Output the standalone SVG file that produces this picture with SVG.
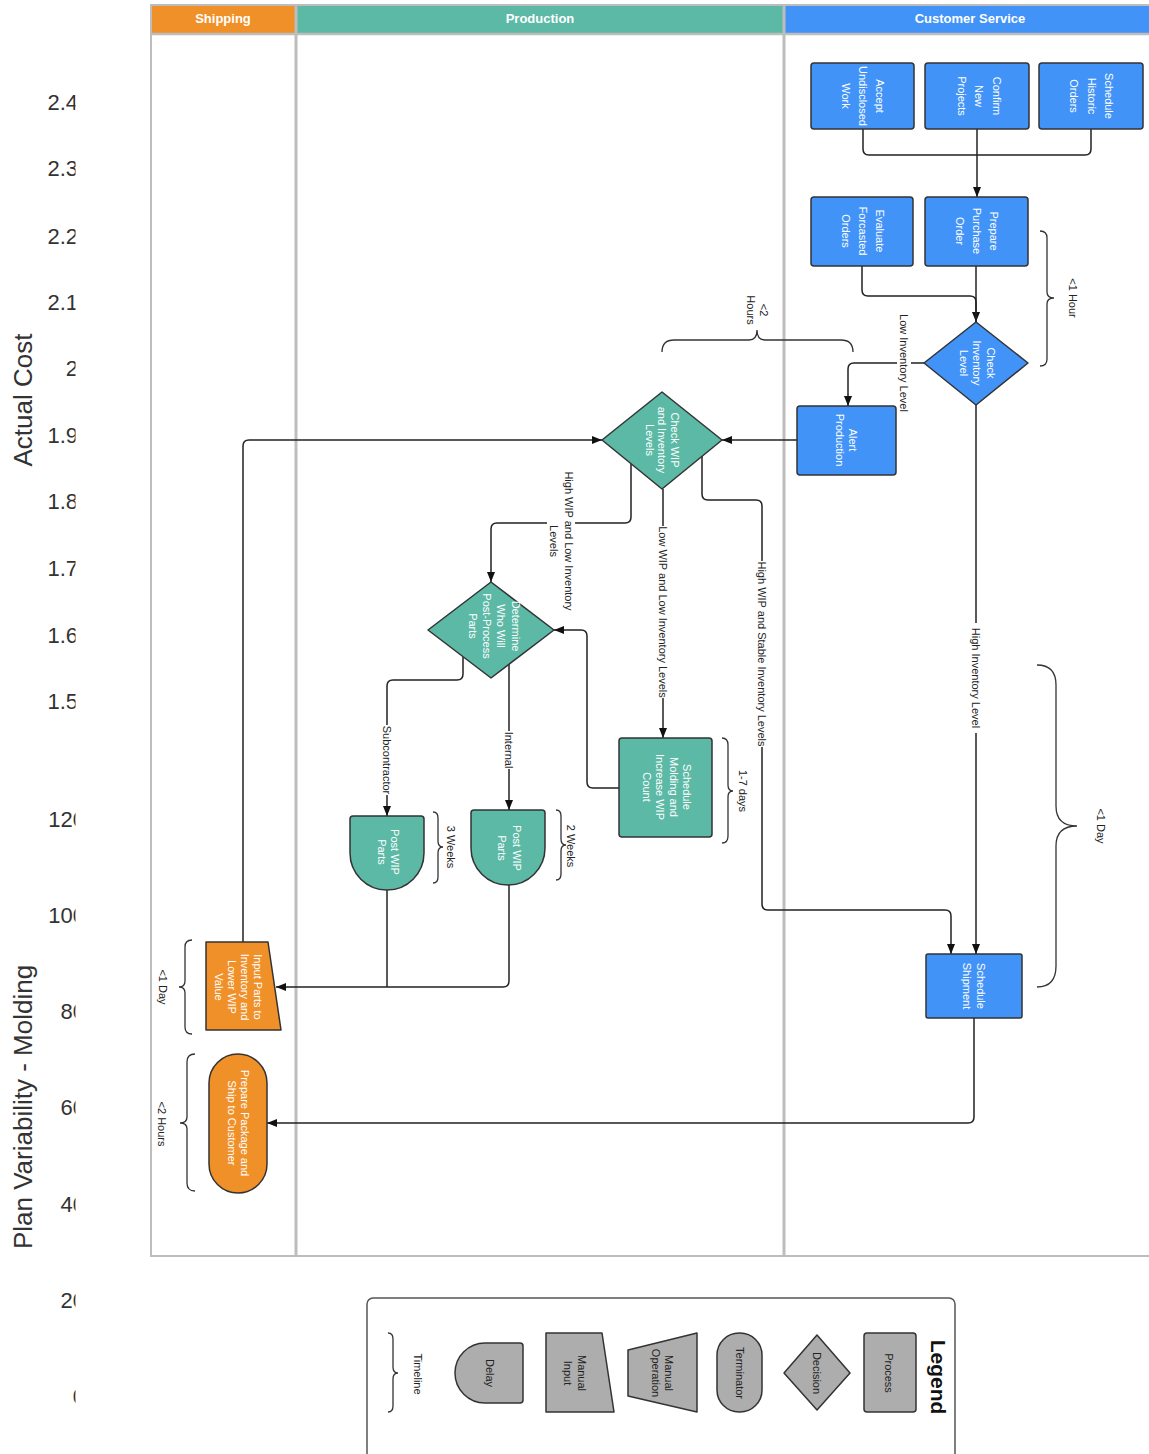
<svg xmlns="http://www.w3.org/2000/svg" width="1149" height="1454" viewBox="0 0 1149 1454">
<defs>
<style>
.ax{font-family:"Liberation Sans",Arial,sans-serif;font-size:22px;fill:#333;text-anchor:end}
.ttl{font-family:"Liberation Sans",Arial,sans-serif;font-size:26px;fill:#333;text-anchor:middle}
.hdr{font-family:"Liberation Sans",Arial,sans-serif;font-size:13px;font-weight:bold;fill:#fff;text-anchor:middle}
.nt{font-family:"Liberation Sans",Arial,sans-serif;font-size:11px;fill:#fff;text-anchor:middle}
.lt{font-family:"Liberation Sans",Arial,sans-serif;font-size:11px;fill:#222;text-anchor:middle}
.lg{font-family:"Liberation Sans",Arial,sans-serif;font-size:21px;font-weight:bold;fill:#111;text-anchor:middle}
.blue{fill:#4293F8;stroke:#333;stroke-width:1.5;stroke-linejoin:round}
.teal{fill:#5BB9A5;stroke:#333;stroke-width:1.5;stroke-linejoin:round}
.orange{fill:#F09029;stroke:#333;stroke-width:1.5;stroke-linejoin:round}
.gray{fill:#ADADAD;stroke:#333;stroke-width:1.5;stroke-linejoin:round}
.con{fill:none;stroke:#222;stroke-width:1.5}
.br{fill:none;stroke:#333;stroke-width:1.3}
.lane{fill:none;stroke:#BDBDBD}
.bg{fill:#fff}
</style>
<marker id="arr" viewBox="0 0 10 10" refX="10" refY="5" markerWidth="10" markerHeight="10" markerUnits="userSpaceOnUse" orient="auto">
<path d="M0,1 L10,5 L0,9 z" fill="#111"/>
</marker>
<clipPath id="axclip"><rect x="0" y="0" width="75.5" height="1454"/></clipPath>
</defs>
<rect x="0" y="0" width="1149" height="1454" fill="#fff"/>

<g id="axes">
<g clip-path="url(#axclip)">
<text class="ax" x="78" y="110">2.4</text>
<text class="ax" x="78" y="176">2.3</text>
<text class="ax" x="78" y="244">2.2</text>
<text class="ax" x="78" y="310">2.1</text>
<text class="ax" x="78" y="376">2</text>
<text class="ax" x="78" y="443">1.9</text>
<text class="ax" x="78" y="509">1.8</text>
<text class="ax" x="78" y="576">1.7</text>
<text class="ax" x="78" y="643">1.6</text>
<text class="ax" x="78" y="709">1.5</text>
<text class="ax" x="85" y="827">120</text>
<text class="ax" x="85" y="923">100</text>
<text class="ax" x="85" y="1019">80</text>
<text class="ax" x="85" y="1115">60</text>
<text class="ax" x="85" y="1212">40</text>
<text class="ax" x="85" y="1308">20</text>
<text class="ax" x="85" y="1404">0</text>
</g>
<text class="ttl" transform="translate(32,400) rotate(-90)">Actual Cost</text>
<text class="ttl" transform="translate(32,1107) rotate(-90)">Plan Variability - Molding</text>
</g>

<g id="lanes">
<rect x="152" y="6" width="143" height="27" fill="#F09029"/>
<rect x="297" y="6" width="486" height="27" fill="#5BB9A5"/>
<rect x="785" y="6" width="366" height="27" fill="#4293F8"/>
<rect class="lane" x="151" y="5" width="1002" height="1251" stroke-width="2"/>
<line class="lane" x1="151" y1="34" x2="1151" y2="34" stroke-width="2.5"/>
<line class="lane" x1="296" y1="5" x2="296" y2="1256" stroke-width="3"/>
<line class="lane" x1="784" y1="5" x2="784" y2="1256" stroke-width="3"/>
<text class="hdr" x="223" y="23">Shipping</text>
<text class="hdr" x="540" y="23">Production</text>
<text class="hdr" x="970" y="23">Customer Service</text>
</g>

<g id="connectors">
<path class="con" d="M863,129 V149 Q863,155 869,155 H1085 Q1091,155 1091,149 V129"/>
<path class="con" d="M977,129 V197" marker-end="url(#arr)"/>
<path class="con" d="M862,266 V290 Q862,296 868,296 H970 Q976,296 976,302 V322" marker-end="url(#arr)"/>
<path class="con" d="M976,266 V322"/>
<path class="con" d="M924,363 H854 Q848,363 848,369 V406" marker-end="url(#arr)"/>
<path class="con" d="M976,405 V954" marker-end="url(#arr)"/>
<path class="con" d="M797,440 H722" marker-end="url(#arr)"/>
<path class="con" d="M631,464 V517 Q631,523 625,523 H497 Q491,523 491,529 V582" marker-end="url(#arr)"/>
<path class="con" d="M663,489 V738" marker-end="url(#arr)"/>
<path class="con" d="M702,456 V494 Q702,500 708,500 H756 Q762,500 762,506 V904 Q762,910 768,910 H945 Q951,910 951,916 V954" marker-end="url(#arr)"/>
<path class="con" d="M619,788 H593 Q587,788 587,782 V636 Q587,630 581,630 H554" marker-end="url(#arr)"/>
<path class="con" d="M463,657 V674 Q463,680 457,680 H393 Q387,680 387,686 V816" marker-end="url(#arr)"/>
<path class="con" d="M509,664 V810" marker-end="url(#arr)"/>
<path class="con" d="M387,890 V987"/>
<path class="con" d="M509,885 V981 Q509,987 503,987 H276" marker-end="url(#arr)"/>
<path class="con" d="M243,942 V446 Q243,440 249,440 H602" marker-end="url(#arr)"/>
<path class="con" d="M974,1018 V1117 Q974,1123 968,1123 H267" marker-end="url(#arr)"/>

<g transform="translate(904,363) rotate(90)"><rect class="bg" x="-52" y="-7" width="104" height="14"/><text class="lt" x="0" y="3.9">Low Inventory Level</text></g>
<g transform="translate(976,678) rotate(90)"><rect class="bg" x="-55" y="-7" width="110" height="14"/><text class="lt" x="0" y="3.9">High Inventory Level</text></g>
<g transform="translate(561,541) rotate(90)"><rect class="bg" x="-72" y="-14" width="144" height="28"/><text class="lt"><tspan x="0" y="-3.6">High WIP and Low Inventory</tspan><tspan x="0" y="11.4">Levels</tspan></text></g>
<g transform="translate(663,612) rotate(90)"><rect class="bg" x="-86" y="-7" width="172" height="14"/><text class="lt" x="0" y="3.9">Low WIP and Low Inventory Levels</text></g>
<g transform="translate(762,654) rotate(90)"><rect class="bg" x="-93" y="-7" width="186" height="14"/><text class="lt" x="0" y="3.9">High WIP and Stable Inventory Levels</text></g>
<g transform="translate(387,760) rotate(90)"><rect class="bg" x="-35" y="-7" width="70" height="14"/><text class="lt" x="0" y="3.9">Subcontractor</text></g>
<g transform="translate(509,750) rotate(90)"><rect class="bg" x="-19" y="-7" width="38" height="14"/><text class="lt" x="0" y="3.9">Internal</text></g>
</g>

<g id="timelines">
<path class="br" d="M1040,231 Q1047,231 1047,238 L1047,292 Q1047,298 1054,298 Q1047,298 1047,304 L1047,359 Q1047,366 1040,366"/>
<text class="lt" transform="translate(1073,298) rotate(90)" x="0" y="3.9">&lt;1 Hour</text>
<path class="br" d="M662,352 Q662,340 674,340 L749,340 Q757,340 757,330 Q757,340 765,340 L841,340 Q853,340 853,352"/>
<text class="lt" transform="translate(757,310) rotate(90)"><tspan x="0" y="-2.6">&lt;2</tspan><tspan x="0" y="10.4">Hours</tspan></text>
<path class="br" d="M1037,665 Q1056,665 1056,685 L1056,806 Q1056,826 1077,826 Q1056,826 1056,846 L1056,966 Q1056,987 1037,987"/>
<text class="lt" transform="translate(1101,826) rotate(90)" x="0" y="3.9">&lt;1 Day</text>
<path class="br" d="M722,738 Q728,738 728,745 L728,785 Q728,791 733,791 Q728,791 728,797 L728,836 Q728,843 722,843"/>
<text class="lt" transform="translate(743,791) rotate(90)" x="0" y="3.9">1-7 days</text>
<path class="br" d="M433,812 Q438,812 438,818 L438,841 Q438,847 443,847 Q438,847 438,853 L438,877 Q438,883 433,883"/>
<text class="lt" transform="translate(451,847) rotate(90)" x="0" y="3.9">3 Weeks</text>
<path class="br" d="M556,810 Q561,810 561,816 L561,839 Q561,845 566,845 Q561,845 561,851 L561,874 Q561,880 556,880"/>
<text class="lt" transform="translate(571,846) rotate(90)" x="0" y="3.9">2 Weeks</text>
<path class="br" d="M192,940 Q185,940 185,947 L185,981 Q185,987 179,987 Q185,987 185,993 L185,1027 Q185,1034 192,1034"/>
<text class="lt" transform="translate(163,987) rotate(90)" x="0" y="3.9">&lt;1 Day</text>
<path class="br" d="M195,1054 Q187,1054 187,1062 L187,1117 Q187,1123 180,1123 Q187,1123 187,1129 L187,1183 Q187,1191 195,1191"/>
<text class="lt" transform="translate(162,1124) rotate(90)" x="0" y="3.9">&lt;2  Hours</text>
</g>

<g id="accept-undisclosed-work">
<rect class="blue" x="811" y="63" width="103" height="66" rx="3"/>
<text class="nt" transform="translate(863,96) rotate(90)"><tspan x="0" y="-13.2">Accept</tspan><tspan x="0" y="3.9">Undisclosed</tspan><tspan x="0" y="21">Work</tspan></text>
</g>
<g id="confirm-new-projects">
<rect class="blue" x="925" y="63" width="104" height="66" rx="3"/>
<text class="nt" transform="translate(979,96) rotate(90)"><tspan x="0" y="-13.6">Confirm</tspan><tspan x="0" y="3.9">New</tspan><tspan x="0" y="21.4">Projects</tspan></text>
</g>
<g id="schedule-historic-orders">
<rect class="blue" x="1039" y="63" width="104" height="66" rx="3"/>
<text class="nt" transform="translate(1091.5,96) rotate(90)"><tspan x="0" y="-13.6">Schedule</tspan><tspan x="0" y="3.9">Historic</tspan><tspan x="0" y="21.4">Orders</tspan></text>
</g>
<g id="evaluate-forcasted-orders">
<rect class="blue" x="811" y="197" width="102" height="69" rx="3"/>
<text class="nt" transform="translate(863,231) rotate(90)"><tspan x="0" y="-13">Evaluate</tspan><tspan x="0" y="3.9">Forcasted</tspan><tspan x="0" y="20.8">Orders</tspan></text>
</g>
<g id="prepare-purchase-order">
<rect class="blue" x="925" y="197" width="103" height="69" rx="3"/>
<text class="nt" transform="translate(977,231) rotate(90)"><tspan x="0" y="-13">Prepare</tspan><tspan x="0" y="3.9">Purchase</tspan><tspan x="0" y="20.8">Order</tspan></text>
</g>
<g id="check-inventory-level">
<polygon class="blue" points="976,322 1028,363 976,405 924,363"/>
<text class="nt" transform="translate(977,363) rotate(90)"><tspan x="0" y="-9.6">Check</tspan><tspan x="0" y="3.9">Inventory</tspan><tspan x="0" y="17.4">Level</tspan></text>
</g>
<g id="alert-production">
<rect class="blue" x="797" y="406" width="99" height="69" rx="3"/>
<text class="nt" transform="translate(846.5,440) rotate(90)"><tspan x="0" y="-2.6">Alert</tspan><tspan x="0" y="10.4">Production</tspan></text>
</g>
<g id="schedule-shipment">
<rect class="blue" x="926" y="954" width="96" height="64" rx="2"/>
<text class="nt" transform="translate(974,986) rotate(90)"><tspan x="0" y="-3.1">Schedule</tspan><tspan x="0" y="10.9">Shipment</tspan></text>
</g>
<g id="check-wip-and-inventory-levels">
<polygon class="teal" points="662,392 722,440 662,489 602,440"/>
<text class="nt" transform="translate(662,440) rotate(90)"><tspan x="0" y="-8.6">Check WIP</tspan><tspan x="0" y="3.9">and Inventory</tspan><tspan x="0" y="16.4">Levels</tspan></text>
</g>
<g id="determine-who-will-post-process-parts">
<polygon class="teal" points="491,582 554,630 491,678 428,630"/>
<text class="nt" transform="translate(494,626) rotate(90)"><tspan x="0" y="-17.6">Determine</tspan><tspan x="0" y="-3.4">Who Will</tspan><tspan x="0" y="10.9">Post-Process</tspan><tspan x="0" y="25.2">Parts</tspan></text>
</g>
<g id="schedule-molding-and-increase-wip-count">
<rect class="teal" x="619" y="738" width="93" height="99" rx="3"/>
<text class="nt" transform="translate(667,787) rotate(90)"><tspan x="0" y="-16.4">Schedule</tspan><tspan x="0" y="-2.9">Molding and</tspan><tspan x="0" y="10.6">Increase WIP</tspan><tspan x="0" y="24.1">Count</tspan></text>
</g>
<g id="post-wip-parts-subcontractor">
<path class="teal" d="M350,819 Q350,816 353,816 H421 Q424,816 424,819 V853 A37,37 0 0 1 350,853 Z"/>
<text class="nt" transform="translate(388,852) rotate(90)"><tspan x="0" y="-2.6">Post WIP</tspan><tspan x="0" y="10.4">Parts</tspan></text>
</g>
<g id="post-wip-parts-internal">
<path class="teal" d="M471,813 Q471,810 474,810 H542 Q545,810 545,813 V848 A37,37 0 0 1 471,848 Z"/>
<text class="nt" transform="translate(509.5,848) rotate(90)"><tspan x="0" y="-3.6">Post WIP</tspan><tspan x="0" y="11.4">Parts</tspan></text>
</g>
<g id="input-parts-to-inventory">
<path class="orange" d="M206,942 H268 L281,1030 H206 Z"/>
<text class="nt" transform="translate(238,987) rotate(90)"><tspan x="0" y="-15.6">Input Parts to</tspan><tspan x="0" y="-2.6">Inventory and</tspan><tspan x="0" y="10.4">Lower WIP</tspan><tspan x="0" y="23.4">Value</tspan></text>
</g>
<g id="prepare-package-and-ship">
<rect class="orange" x="209" y="1054" width="58" height="139" rx="29"/>
<text class="nt" transform="translate(238.5,1123) rotate(90)"><tspan x="0" y="-2.6">Prepare Package and</tspan><tspan x="0" y="10.4">Ship to Customer</tspan></text>
</g>

<g id="legend">
<rect x="367" y="1298" width="588" height="175" rx="6" fill="#fff" stroke="#555" stroke-width="1.5"/>
<text class="lg" transform="translate(938,1377) rotate(90)" x="0" y="7">Legend</text>
<rect class="gray" x="864" y="1333" width="52" height="79" rx="3"/>
<text class="lt" transform="translate(889,1373) rotate(90)" x="0" y="3.9">Process</text>
<polygon class="gray" points="817,1335 850,1373 817,1410 784,1373"/>
<text class="lt" transform="translate(817,1373) rotate(90)" x="0" y="3.9">Decision</text>
<rect class="gray" x="717" y="1333" width="45" height="79" rx="22"/>
<text class="lt" transform="translate(740,1373) rotate(90)" x="0" y="3.9">Terminator</text>
<path class="gray" d="M628,1350 L697,1333 V1412 L628,1396 Z"/>
<text class="lt" transform="translate(662.5,1373) rotate(90)"><tspan x="0" y="-2.6">Manual</tspan><tspan x="0" y="10.4">Operation</tspan></text>
<path class="gray" d="M546,1333 H602 L614,1412 H546 Z"/>
<text class="lt" transform="translate(575,1373) rotate(90)"><tspan x="0" y="-3.1">Manual</tspan><tspan x="0" y="10.9">Input</tspan></text>
<path class="gray" d="M523,1346 V1400 Q523,1403 520,1403 H485 A30,30 0 0 1 485,1343 H520 Q523,1343 523,1346 Z"/>
<text class="lt" transform="translate(490,1373) rotate(90)" x="0" y="3.9">Delay</text>
<path class="br" d="M388,1333 Q393,1333 393,1339 L393,1367 Q393,1373 398,1373 Q393,1373 393,1379 L393,1406 Q393,1412 388,1412"/>
<text class="lt" transform="translate(418,1374) rotate(90)" x="0" y="3.9">Timeline</text>
</g>
</svg>
